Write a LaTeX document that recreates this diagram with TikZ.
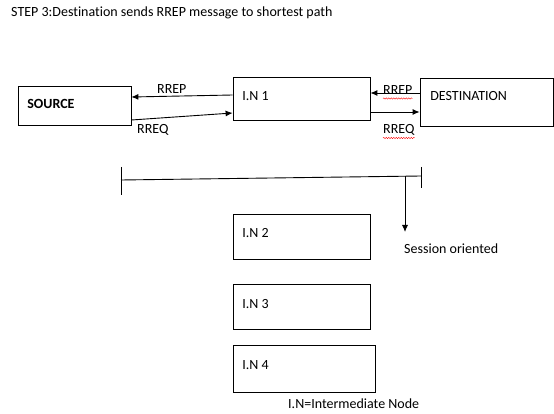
\documentclass[tikz,border=0pt]{standalone}
\usepackage{fontspec}
\setmainfont[Ligatures=CommonOff]{Carlito}
\usetikzlibrary{arrows.meta,positioning,calc,decorations.pathmorphing}
\tikzset{>=Latex}
\tikzset{
  box/.style={draw,line width=0.8pt,inner sep=0pt},
  tag/.style={anchor=base west,inner sep=0pt,font=\fontsize{14}{16}\selectfont},
  msg/.style={->,line width=0.9pt,>={Latex[length=7pt,width=6pt]}},
  squiggle/.style={red,line width=0.4pt,decorate,decoration={snake,amplitude=0.7pt,segment length=2.5pt}}
}

\begin{document}
\begin{tikzpicture}[x=1pt,y=-1pt]
  \useasboundingbox (0,0) rectangle (554,414);
  \node[tag] (title) at (11,17) {STEP 3:Destination sends RREP message to shortest path};

  % the three nodes on the route
  \node[box,minimum width=113pt,minimum height=39pt] (src) at (74.5,105.5) {};
  \node[box,minimum width=137pt,minimum height=43pt] (in1) at (301.5,98.5) {};
  \node[box,minimum width=133pt,minimum height=48pt] (dst) at (486.5,102) {};
  \node[tag,font=\fontsize{14}{16}\selectfont\bfseries] at ([xshift=9.5pt,yshift=-3.5pt]src.west) {SOURCE};
  \node[tag] at ([xshift=9.5pt,yshift=-2.5pt]in1.west) {I.N 1};
  \node[tag] at ([xshift=10.5pt,yshift=1pt]dst.west) {DESTINATION};

  % request and reply messages
  \draw[msg] ([yshift=3.5pt]in1.west) -- ([yshift=8.5pt]src.east);
  \draw[msg] ([yshift=-14.5pt]src.east) -- ([yshift=-14.5pt]in1.west);
  \draw[msg] ([yshift=9pt]dst.west) -- ([yshift=5.5pt]in1.east);
  \draw[msg] ([yshift=-13.5pt]in1.east) -- ([yshift=-10pt]dst.west);
  \node[tag] (rep1) at (157,94) {RREP};
  \node[tag] (req1) at (137,134) {RREQ};
  \node[tag] (rep2) at (383,95) {RREP};
  \node[tag] (req2) at (383,134) {RREQ};
  \draw[squiggle] ([yshift=-3.5pt]rep2.base west) -- ([yshift=-3.5pt]rep2.base east);
  \draw[squiggle] ([yshift=-4pt]req2.base west) -- ([yshift=-4pt]req2.base east);

  % session bar
  \coordinate (bl) at (121,180);
  \coordinate (br) at (421,176);
  \coordinate (tap) at (405,176.5);
  \draw[line width=0.9pt] (bl) -- (br);
  \draw[line width=0.8pt] (121,167) -- (121,195);
  \draw[line width=0.8pt] (421,167) -- (421,188);
  \node[tag] (sess) at (404,253) {Session oriented};
  \draw[msg] (tap) -- (tap |- 0,232);

  % other intermediate nodes
  \node[box,minimum width=137pt,minimum height=45pt] (in2) at (301.5,236.5) {};
  \node[box,minimum width=137pt,minimum height=45pt] (in3) at (301.5,306.5) {};
  \node[box,minimum width=142pt,minimum height=47pt] (in4) at (304,368.5) {};
  \node[tag] at ([xshift=9.5pt,yshift=-0.5pt]in2.west) {I.N 2};
  \node[tag] at ([xshift=9.5pt,yshift=-1.5pt]in3.west) {I.N 3};
  \node[tag] at ([xshift=9.5pt,yshift=-0.5pt]in4.west) {I.N 4};

  \node[tag] (key) at (288,408) {I.N=Intermediate Node};
\end{tikzpicture}
\end{document}
